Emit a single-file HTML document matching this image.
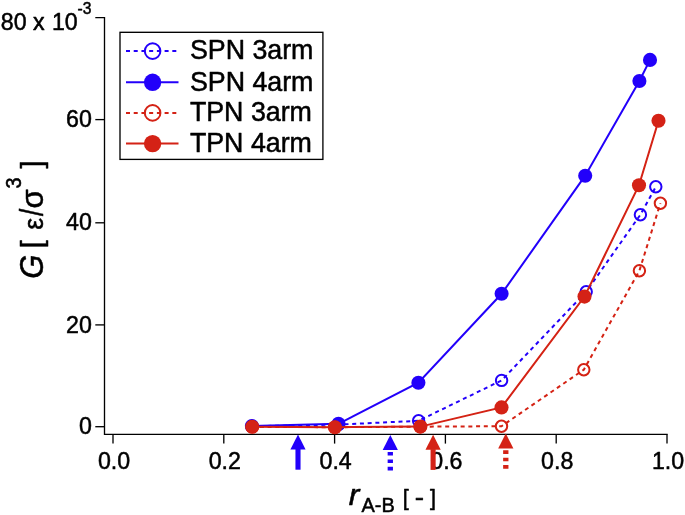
<!DOCTYPE html>
<html><head><meta charset="utf-8"><title>G vs r_A-B</title>
<style>
html,body{margin:0;padding:0;background:#fff;}
body{width:685px;height:515px;overflow:hidden;}
svg{display:block;}
svg text{font-family:"Liberation Sans",sans-serif;stroke:#000;stroke-width:0.5px;stroke-linejoin:round;}
</style></head>
<body>
<svg width="685" height="515" viewBox="0 0 685 515">
<defs><filter id="soft" x="0" y="0" width="685" height="515" filterUnits="userSpaceOnUse"><feGaussianBlur stdDeviation="0.45"/></filter></defs>
<rect x="0" y="0" width="685" height="515" fill="#fff"/>
<g filter="url(#soft)">
<g stroke="#000" stroke-width="1.33" fill="none">
<polyline points="95.3,17.7 104.5,17.7 104.5,434.4 667.7,434.4"/>
<line x1="95.3" y1="426.7" x2="104.5" y2="426.7"/>
<line x1="95.3" y1="324.9" x2="104.5" y2="324.9"/>
<line x1="95.3" y1="222.8" x2="104.5" y2="222.8"/>
<line x1="95.3" y1="119.6" x2="104.5" y2="119.6"/>
<line x1="113.0" y1="434.4" x2="113.0" y2="443.6"/>
<line x1="223.8" y1="434.4" x2="223.8" y2="443.6"/>
<line x1="334.6" y1="434.4" x2="334.6" y2="443.6"/>
<line x1="445.4" y1="434.4" x2="445.4" y2="443.6"/>
<line x1="556.2" y1="434.4" x2="556.2" y2="443.6"/>
<line x1="667.0" y1="434.4" x2="667.0" y2="443.6"/>
</g>
<text transform="translate(114.00,469.00) scale(1,1.046)" font-size="23.20" text-anchor="middle" fill="#000" >0.0</text>
<text transform="translate(224.80,469.00) scale(1,1.046)" font-size="23.20" text-anchor="middle" fill="#000" >0.2</text>
<text transform="translate(335.60,469.00) scale(1,1.046)" font-size="23.20" text-anchor="middle" fill="#000" >0.4</text>
<text transform="translate(446.40,469.00) scale(1,1.046)" font-size="23.20" text-anchor="middle" fill="#000" >0.6</text>
<text transform="translate(557.20,469.00) scale(1,1.046)" font-size="23.20" text-anchor="middle" fill="#000" >0.8</text>
<text transform="translate(668.00,469.00) scale(1,1.046)" font-size="23.20" text-anchor="middle" fill="#000" >1.0</text>
<text transform="translate(91.90,434.30) scale(1,1.046)" font-size="23.20" text-anchor="end" fill="#000" >0</text>
<text transform="translate(91.90,332.50) scale(1,1.046)" font-size="23.20" text-anchor="end" fill="#000" >20</text>
<text transform="translate(91.90,230.40) scale(1,1.046)" font-size="23.20" text-anchor="end" fill="#000" >40</text>
<text transform="translate(91.90,127.20) scale(1,1.046)" font-size="23.20" text-anchor="end" fill="#000" >60</text>
<text transform="translate(0.80,29.60) scale(1,1.046)" font-size="23.20" text-anchor="start" fill="#000" >80</text>
<text transform="translate(32.90,29.60) scale(1,1.046)" font-size="23.20" text-anchor="start" fill="#000" >x</text>
<text transform="translate(51.90,29.60) scale(1,1.046)" font-size="23.20" text-anchor="start" fill="#000" >10</text>
<text transform="translate(77.60,14.10) scale(1,1.046)" font-size="15.60" text-anchor="start" fill="#000" >-3</text>
<text transform="translate(42.70,278.80) rotate(-90) scale(1.000,1.046)" font-size="31.00" fill="#000" font-style="italic">G</text>
<text transform="translate(41.70,248.20) rotate(-90) scale(1.000,1.046)" font-size="29.00" fill="#000" >[</text>
<text transform="translate(42.70,229.70) rotate(-90) scale(1.000,1.046)" font-size="26.60" fill="#000" >ε</text>
<text transform="translate(42.70,216.10) rotate(-90) scale(0.850,1.046)" font-size="31.00" fill="#000" >/</text>
<text transform="translate(42.70,208.60) rotate(-90) scale(1.000,0.983)" font-size="31.00" fill="#000" >σ</text>
<text transform="translate(21.30,188.60) rotate(-90) scale(1.000,1.130)" font-size="19.80" fill="#000" >3</text>
<text transform="translate(41.70,168.60) rotate(-90) scale(1.000,1.046)" font-size="29.00" fill="#000" >]</text>
<text transform="translate(348.80,505.40) scale(1.120,1.046)" font-size="28.50" fill="#000" font-style="italic">r</text>
<text transform="translate(361.50,511.80) scale(1.000,1.046)" font-size="20.00" fill="#000" >A-B</text>
<text transform="translate(402.80,505.00) scale(1.000,1.046)" font-size="21.60" fill="#000" >[</text>
<text transform="translate(414.80,505.40) scale(1.200,1.046)" font-size="23.20" fill="#000" >-</text>
<text transform="translate(430.10,505.00) scale(1.000,1.046)" font-size="21.60" fill="#000" >]</text>
<polyline fill="none" stroke="#2400fa" stroke-width="2" stroke-dasharray="4 3.72" points="251.9,426.2 338.5,424.6 418.6,420.8 501.6,380.4 586.2,291.7 640.4,214.7 655.8,186.8"/>
<circle cx="251.9" cy="426.2" r="5.7" fill="none" stroke="#2400fa" stroke-width="2"/>
<circle cx="338.5" cy="424.6" r="5.7" fill="none" stroke="#2400fa" stroke-width="2"/>
<circle cx="418.6" cy="420.8" r="5.7" fill="none" stroke="#2400fa" stroke-width="2"/>
<circle cx="501.6" cy="380.4" r="5.7" fill="none" stroke="#2400fa" stroke-width="2"/>
<circle cx="586.2" cy="291.7" r="5.7" fill="none" stroke="#2400fa" stroke-width="2"/>
<circle cx="640.4" cy="214.7" r="5.7" fill="none" stroke="#2400fa" stroke-width="2"/>
<circle cx="655.8" cy="186.8" r="5.7" fill="none" stroke="#2400fa" stroke-width="2"/>
<polyline fill="none" stroke="#2400fa" stroke-width="2"  points="251.9,426.1 338.5,423.8 418.4,382.7 501.6,293.8 585.2,175.7 639.4,81.0 650.0,59.9"/>
<circle cx="251.9" cy="426.1" r="7.05" fill="#2400fa"/>
<circle cx="338.5" cy="423.8" r="7.05" fill="#2400fa"/>
<circle cx="418.4" cy="382.7" r="7.05" fill="#2400fa"/>
<circle cx="501.6" cy="293.8" r="7.05" fill="#2400fa"/>
<circle cx="585.2" cy="175.7" r="7.05" fill="#2400fa"/>
<circle cx="639.4" cy="81.0" r="7.05" fill="#2400fa"/>
<circle cx="650.0" cy="59.9" r="7.05" fill="#2400fa"/>
<polyline fill="none" stroke="#d42012" stroke-width="2" stroke-dasharray="4 3.72" points="252.2,426.9 334.9,427.2 420.2,426.7 501.5,426.2 583.8,369.7 639.4,270.7 660.4,203.2"/>
<circle cx="252.2" cy="426.9" r="5.7" fill="none" stroke="#d42012" stroke-width="2"/>
<circle cx="334.9" cy="427.2" r="5.7" fill="none" stroke="#d42012" stroke-width="2"/>
<circle cx="420.2" cy="426.7" r="5.7" fill="none" stroke="#d42012" stroke-width="2"/>
<circle cx="501.5" cy="426.2" r="5.7" fill="none" stroke="#d42012" stroke-width="2"/>
<circle cx="583.8" cy="369.7" r="5.7" fill="none" stroke="#d42012" stroke-width="2"/>
<circle cx="639.4" cy="270.7" r="5.7" fill="none" stroke="#d42012" stroke-width="2"/>
<circle cx="660.4" cy="203.2" r="5.7" fill="none" stroke="#d42012" stroke-width="2"/>
<polyline fill="none" stroke="#d42012" stroke-width="2"  points="252.2,426.8 334.9,427.2 420.4,426.6 501.5,407.4 584.5,296.6 639.0,185.2 658.5,120.7"/>
<circle cx="252.2" cy="426.8" r="7.05" fill="#d42012"/>
<circle cx="334.9" cy="427.2" r="7.05" fill="#d42012"/>
<circle cx="420.4" cy="426.6" r="7.05" fill="#d42012"/>
<circle cx="501.5" cy="407.4" r="7.05" fill="#d42012"/>
<circle cx="584.5" cy="296.6" r="7.05" fill="#d42012"/>
<circle cx="639.0" cy="185.2" r="7.05" fill="#d42012"/>
<circle cx="658.5" cy="120.7" r="7.05" fill="#d42012"/>
<polygon points="298.0,434.5 290.4,449.5 305.6,449.5" fill="#2400fa"/>
<line x1="298.0" y1="449.0" x2="298.0" y2="469.7" stroke="#2400fa" stroke-width="5.1"/>
<polygon points="390.3,435.1 382.7,450.1 397.9,450.1" fill="#2400fa"/>
<line x1="390.3" y1="452.0" x2="390.3" y2="471.1" stroke="#2400fa" stroke-width="5.3" stroke-dasharray="3.6 3.8"/>
<polygon points="433.1,434.7 425.5,449.7 440.7,449.7" fill="#d42012"/>
<line x1="433.1" y1="449.2" x2="433.1" y2="469.9" stroke="#d42012" stroke-width="5.1"/>
<polygon points="505.8,433.4 498.2,448.4 513.4,448.4" fill="#d42012"/>
<line x1="505.8" y1="450.3" x2="505.8" y2="469.4" stroke="#d42012" stroke-width="5.3" stroke-dasharray="3.6 3.8"/>
<rect x="120.0" y="32.3" width="202.9" height="127.1" fill="#fff" stroke="#000" stroke-width="1.33"/>
<line x1="126" y1="51.1" x2="178.5" y2="51.1" stroke="#2400fa" stroke-width="2" stroke-dasharray="4 3.72"/>
<circle cx="152.6" cy="51.1" r="7.8" fill="none" stroke="#2400fa" stroke-width="2"/>
<text transform="translate(189.90,59.30) scale(1,1.046)" font-size="26.80" text-anchor="start" fill="#000" >SPN 3arm</text>
<line x1="126" y1="82.3" x2="178.5" y2="82.3" stroke="#2400fa" stroke-width="2" />
<circle cx="152.6" cy="82.3" r="8.7" fill="#2400fa"/>
<text transform="translate(189.90,90.50) scale(1,1.046)" font-size="26.80" text-anchor="start" fill="#000" >SPN 4arm</text>
<line x1="126" y1="112.9" x2="178.5" y2="112.9" stroke="#d42012" stroke-width="2" stroke-dasharray="4 3.72"/>
<circle cx="152.6" cy="112.9" r="7.8" fill="none" stroke="#d42012" stroke-width="2"/>
<text transform="translate(189.90,121.10) scale(1,1.046)" font-size="26.80" text-anchor="start" fill="#000" >TPN 3arm</text>
<line x1="126" y1="143.6" x2="178.5" y2="143.6" stroke="#d42012" stroke-width="2" />
<circle cx="152.6" cy="143.6" r="8.7" fill="#d42012"/>
<text transform="translate(189.90,151.80) scale(1,1.046)" font-size="26.80" text-anchor="start" fill="#000" >TPN 4arm</text>
</g>
</svg>
</body></html>
